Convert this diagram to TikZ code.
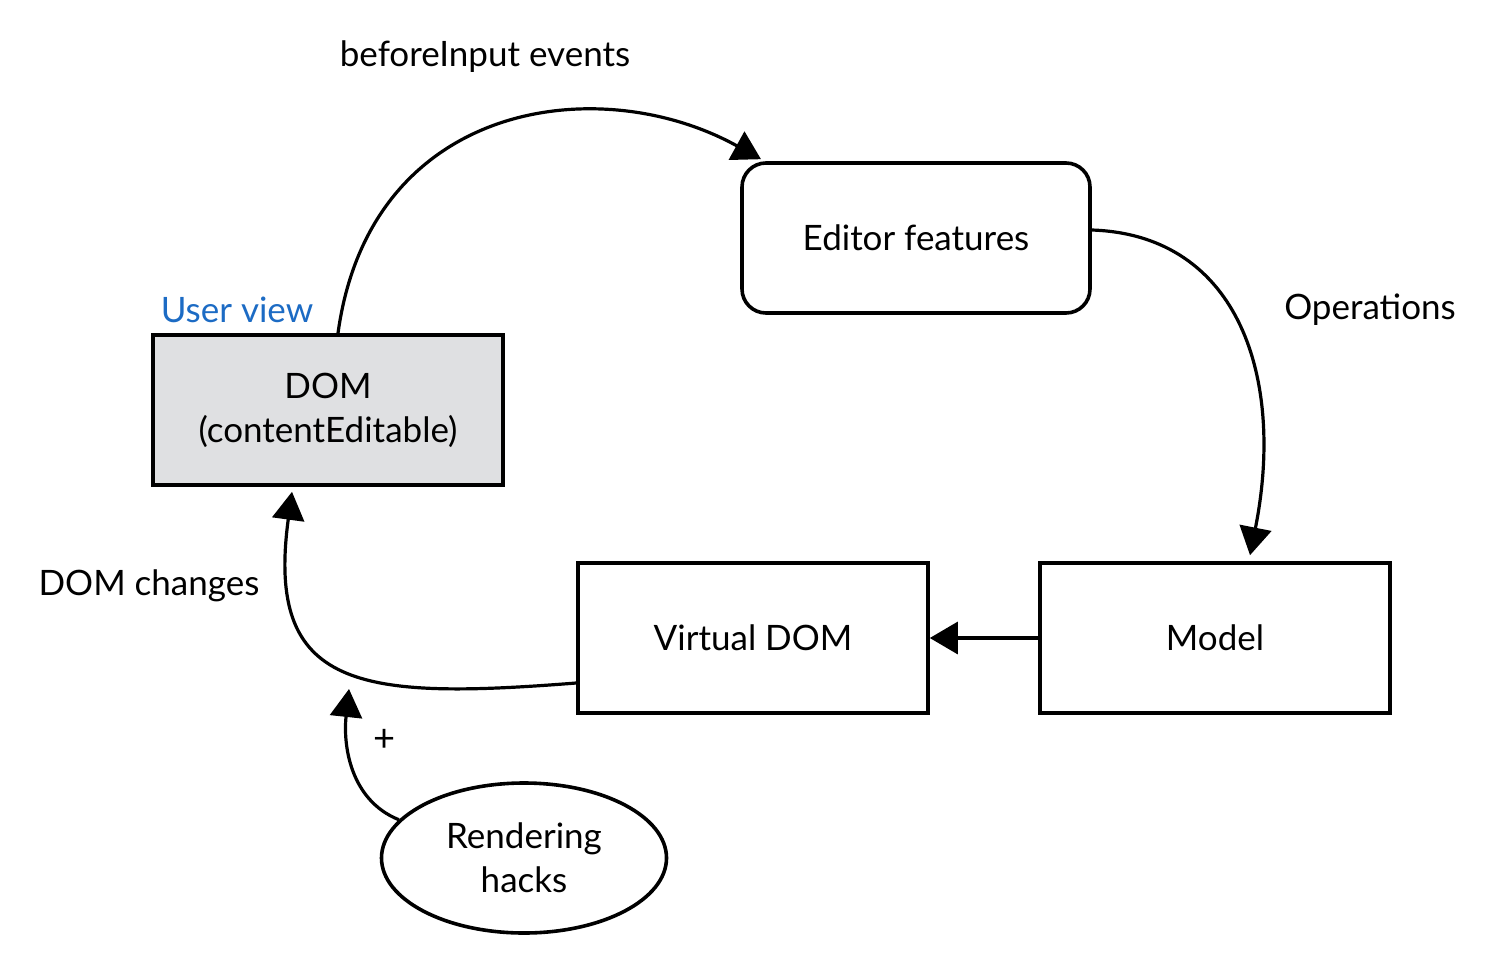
\documentclass[tikz,border=0pt]{standalone}
\usepackage{fontspec}
\setmainfont{Lato}
\usetikzlibrary{arrows.meta,shapes.geometric}
\definecolor{domgray}{HTML}{DFE0E2}
\definecolor{viewblue}{HTML}{1C6BC4}
\begin{document}
\begin{tikzpicture}[x=1pt, y=-1pt,
  every node/.style={font=\fontsize{35}{44}\selectfont},
  box/.style={draw, line width=3.6pt, minimum width=350, minimum height=150, align=center},
  flow/.style={line width=3.2pt, -{Triangle[length=28pt, width=32pt]}}]
% Fix the canvas size
\useasboundingbox (0,0) rectangle (1496,972);

% Draw the boxes
\node[box, rounded corners=24pt, minimum width=348] (editor) at (916, 238) {Editor features};
\node[box, fill=domgray] (dom) at (328, 410) {DOM\\(contentEditable)};
\node[box] (vdom) at (753, 638) {Virtual DOM};
\node[box] (model) at (1215, 638) {Model};
\node[draw, ellipse, line width=3.6pt, minimum width=285, minimum height=150, align=center] (hacks) at (524, 858) {Rendering\\hacks};

% Labels
\node (lbefore) at (485, 57) {beforeInput events};
\node (lops) at (1370, 310) {Operations};
\node[text=viewblue] (lview) at (237, 310) {User view};
\node (lchanges) at (149, 586) {DOM changes};
\node[font=\fontsize{38}{44}\selectfont] (lplus) at (385, 740) {+};

% Draw the arrows
\draw[flow] ([xshift=10]dom.north) .. controls (370, 100) and (600, 70) .. ([xshift=-155, yshift=2]editor.north);
\draw[flow] ([yshift=8]editor.east) .. controls (1240, 235) and (1285, 380) .. ([xshift=35, yshift=6]model.north);
\draw[flow] (model.west) -- (vdom.east);
\coordinate (join) at (349, 689);
\draw[flow] ([yshift=-45]vdom.west) .. controls (360, 700) and (265, 690) .. ([xshift=-36, yshift=-5]dom.south);
\draw[flow] (hacks.163) .. controls (350, 800) and (343, 745) .. (join);
\end{tikzpicture}
\end{document}
